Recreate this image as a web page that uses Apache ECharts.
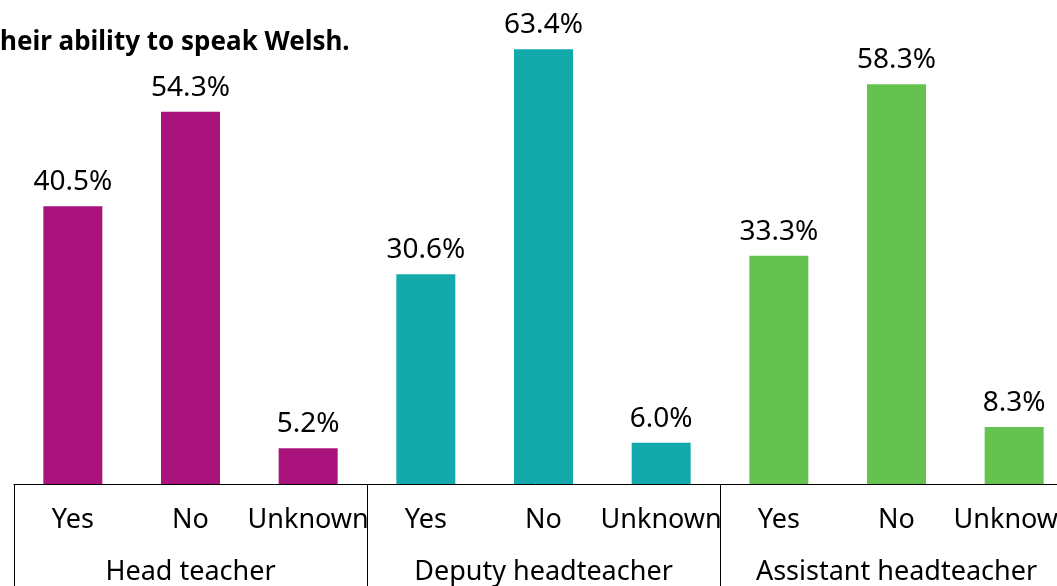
<!DOCTYPE html>
<html><head><meta charset="utf-8">
<script src="https://cdn.jsdelivr.net/npm/echarts@6/dist/echarts.min.js"></script>
<style>html,body{margin:0;padding:0;background:#fff}#c{width:1057px;height:586px}</style>
</head><body><div id="c"></div>
<script>
const titleText = "heir ability to speak Welsh.";
const categories = ["Yes","No","Unknown","Yes","No","Unknown","Yes","No","Unknown"];
const groups = ["Head teacher","Deputy headteacher","Assistant headteacher"];
const values = [40.5, 54.3, 5.2, 30.6, 63.4, 6.0, 33.3, 58.3, 8.3];
const groupColors = ["#AA137C","#13A8AA","#66C24F"];

const chart = echarts.init(document.getElementById('c'));
const FONT = "Noto Sans";
chart.setOption({
  animation:false,
  title:{text:titleText,left:-5,top:25,textStyle:{fontFamily:FONT,fontWeight:'bold',fontSize:26,color:'#000'}},
  grid:{left:14,top:4,width:1059,height:480,outerBoundsMode:'none',containLabel:false},
  xAxis:[{
    type:'category',data:categories,position:'bottom',
    axisLine:{show:true,lineStyle:{color:'#000',width:1}},
    axisTick:{show:false},
    axisLabel:{color:'#000',fontFamily:FONT,fontSize:27,margin:23,interval:0}
  },{
    type:'category',data:groups,position:'bottom',
    axisLine:{show:false},
    axisTick:{show:true,length:110,lineStyle:{color:'#000',width:1}},
    axisLabel:{color:'#000',fontFamily:FONT,fontSize:27,margin:75,interval:0}
  }],
  yAxis:{type:'value',min:0,max:70,show:false,splitLine:{show:false}},
  series:[{
    type:'bar',xAxisIndex:0,barWidth:59,
    data:values.map((v,i)=>({value:v,itemStyle:{color:groupColors[Math.floor(i/3)]}})),
    label:{show:true,position:'top',distance:10,color:'#000',fontFamily:FONT,fontSize:28,formatter:p=>p.value.toFixed(1)+'%'}
  }]
});
</script></body></html>
